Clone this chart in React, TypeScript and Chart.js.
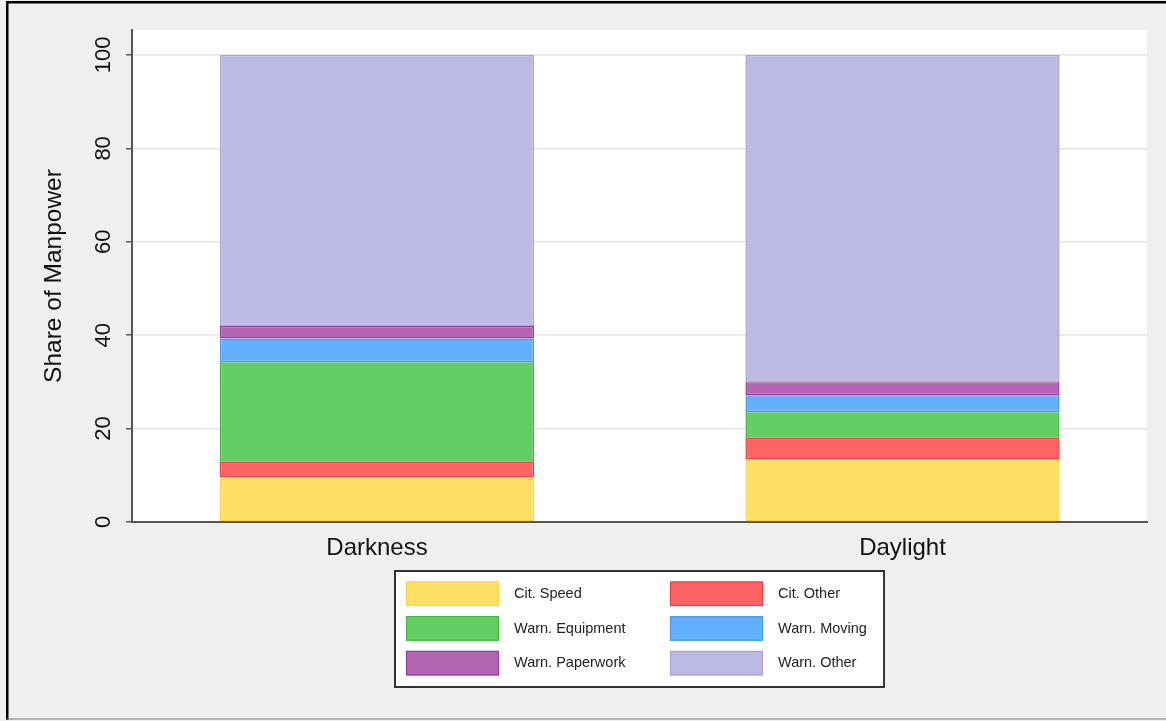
import React, { useEffect, useRef } from "react";
import { Chart, registerables } from "chart.js";

Chart.register(...registerables);

const categories = ["Darkness", "Daylight"];
const seriesLabels = ["Cit. Speed", "Cit. Other", "Warn. Equipment", "Warn. Moving", "Warn. Paperwork", "Warn. Other"];
const citSpeed = [9.6, 13.5];
const citOther = [3.3, 4.55];
const warnEquipment = [21.3, 5.45];
const warnMoving = [5.1, 3.65];
const warnPaperwork = [2.65, 2.8];
const warnOther = [58.05, 70.05];
const yTicks = [0, 20, 40, 60, 80, 100];

const seriesValues = [citSpeed, citOther, warnEquipment, warnMoving, warnPaperwork, warnOther];
const fills = [
  "rgb(255,224,102)",
  "rgb(255,99,99)",
  "rgb(100,205,100)",
  "rgb(99,176,255)",
  "rgb(178,102,178)",
  "rgb(188,186,226)",
];
const borders = [
  "rgb(255,212,70)",
  "rgb(240,62,62)",
  "rgb(62,182,62)",
  "rgb(70,152,240)",
  "rgb(150,62,160)",
  "rgb(168,164,218)",
];

const FONT = "'Liberation Sans', Arial, Helvetica, sans-serif";

const framePlugin = {
  id: "frame",
  beforeDraw(chart: any) {
    const { ctx, width, height, chartArea } = chart;
    ctx.save();
    ctx.fillStyle = "#efefef";
    ctx.fillRect(0, 0, width, height);
    ctx.fillStyle = "#000";
    ctx.fillRect(6, 1, 2.5, height - 2);
    ctx.fillRect(6, 1, width, 2.5);
    ctx.fillStyle = "#777";
    ctx.fillRect(6, height - 2.5, width, 1);
    ctx.fillStyle = "#ffffff";
    ctx.fillRect(chartArea.left, chartArea.top, chartArea.right - chartArea.left, chartArea.bottom - chartArea.top);
    ctx.restore();
  },
};

const legendPlugin = {
  id: "boxLegend",
  afterDraw(chart: any) {
    const { ctx } = chart;
    const ds = chart.data.datasets;
    ctx.save();
    const bx = 395, by = 571, bw = 489, bh = 116;
    ctx.fillStyle = "#fff";
    ctx.fillRect(bx, by, bw, bh);
    ctx.strokeStyle = "#333";
    ctx.lineWidth = 2;
    ctx.strokeRect(bx, by, bw, bh);
    ctx.font = `14.5px ${FONT}`;
    ctx.textBaseline = "middle";
    ctx.textAlign = "left";
    ds.forEach((d: any, i: number) => {
      const col = i % 2;
      const row = Math.floor(i / 2);
      const sx = 406 + col * 264;
      const sy = 581.5 + row * 34.7;
      ctx.fillStyle = d.backgroundColor;
      ctx.fillRect(sx, sy, 93, 24.5);
      ctx.strokeStyle = d.borderColor;
      ctx.lineWidth = 1.2;
      ctx.strokeRect(sx + 0.5, sy + 0.5, 92, 23.5);
      ctx.fillStyle = "#222";
      ctx.fillText(d.label, sx + 108, sy + 12.5);
    });
    ctx.restore();
  },
};

export default function App() {
  const ref = useRef<HTMLCanvasElement | null>(null);

  useEffect(() => {
    document.body.style.margin = "0";
    if (!ref.current) return;
    const datasets = seriesLabels.map((label, i) => ({
      label,
      data: seriesValues[i].map((v, j) => ({ x: j, y: v })),
      backgroundColor: fills[i],
      borderColor: borders[i],
      borderWidth: 1.5,
      borderSkipped: false,
      barPercentage: 0.598,
      categoryPercentage: 1,
    }));
    const chart = new Chart(ref.current, {
      type: "bar",
      data: { datasets },
      plugins: [framePlugin, legendPlugin],
      options: {
        animation: false,
        responsive: false,
        maintainAspectRatio: false,
        layout: { padding: { left: 0, right: 19, top: 30, bottom: 0 } },
        plugins: { legend: { display: false }, tooltip: { enabled: false } },
        scales: {
          x: {
            type: "linear",
            stacked: true,
            offset: false,
            min: -0.4662,
            max: 1.4653,
            afterBuildTicks: (scale: any) => {
              scale.ticks = categories.map((_, i) => ({ value: i }));
            },
            afterFit: (scale: any) => {
              scale.height = 199;
            },
            grid: { display: false, drawTicks: false, offset: false },
            border: { display: true, color: "#555", width: 2 },
            ticks: {
              autoSkip: false,
              maxRotation: 0,
              padding: 12,
              color: "#111",
              font: { family: FONT, size: 24 },
              callback: (v: any) => categories[v] ?? "",
            },
          },
          y: {
            type: "linear",
            stacked: true,
            min: 0,
            max: 105.35,
            afterBuildTicks: (scale: any) => {
              scale.ticks = yTicks.map((v) => ({ value: v }));
            },
            afterFit: (scale: any) => {
              scale.width = 132;
            },
            grid: {
              color: (c: any) => (c.tick && c.tick.value === 0 ? "rgba(0,0,0,0)" : "#e6e6e6"),
              lineWidth: 1.5,
              tickColor: "#555",
              tickLength: 6,
              tickWidth: 1.5,
            },
            border: { display: true, color: "#555", width: 2 },
            ticks: {
              autoSkip: false,
              minRotation: 90,
              maxRotation: 90,
              crossAlign: "center",
              padding: 4,
              color: "#111",
              font: { family: FONT, size: 22 },
            },
            title: {
              display: true,
              text: "Share of Manpower",
              color: "#111",
              font: { family: FONT, size: 24.5 },
              padding: { top: 40, bottom: 0 },
            },
          },
        },
      },
    } as any);
    return () => chart.destroy();
  }, []);

  return (
    <div style={{ position: "fixed", left: 0, top: 0, width: 1166, height: 721 }}>
      <canvas ref={ref} width={1166} height={721} style={{ width: 1166, height: 721, display: "block" }} />
    </div>
  );
}
